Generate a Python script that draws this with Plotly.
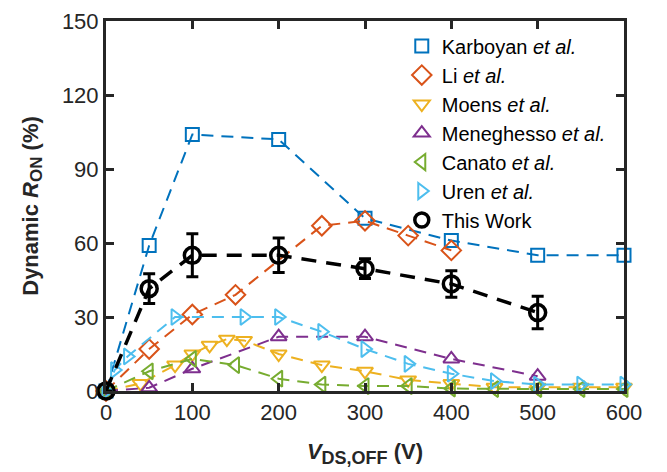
import plotly.graph_objects as go

# ---- data ----
karboyan_x = [0, 50, 100, 200, 300, 400, 500, 600]
karboyan_y = [0, 59, 104, 102, 70, 61, 55, 55]

li_x = [0, 50, 100, 150, 250, 300, 350, 400]
li_y = [0, 17, 31, 39, 67, 69, 63, 57]

moens_x = [0, 40, 80, 100, 120, 140, 160, 200, 250, 300, 350, 400, 450, 500, 550, 600]
moens_y = [0, 3, 10.5, 15, 18.5, 21, 20.5, 15, 10.5, 8, 4.5, 3, 1.5, 1.5, 1.5, 1.5]

meneghesso_x = [0, 50, 100, 200, 300, 400, 500]
meneghesso_y = [0, 1.3, 9, 22, 22, 13, 6]

canato_x = [0, 50, 100, 150, 200, 250, 300, 350, 400, 450, 500, 550, 600]
canato_y = [0, 8, 13, 10.5, 5, 2.6, 2, 2, 1, 0.8, 0.8, 0.8, 0.8]

uren_x = [0, 10, 25, 80, 160, 200, 250, 300, 350, 400, 450, 500, 550, 600]
uren_y = [0, 8.5, 14, 30, 30, 30, 24, 17, 11, 7, 4, 2.6, 2.6, 2.6]

work_x = [0, 50, 100, 200, 300, 400, 500]
work_y = [0, 41.5, 55, 55, 49.6, 43.4, 31.8]
work_err = [0, 6, 8.7, 7, 4, 5.4, 6.6]

x_ticks = [0, 100, 200, 300, 400, 500, 600]
y_ticks = [0, 30, 60, 90, 120, 150]
x_range = [0, 600]
y_range = [0, 150]

series = [
    ("Karboyan <i>et al.</i>", karboyan_x, karboyan_y, "#0072BD", "square-open", 13),
    ("Li <i>et al.</i>", li_x, li_y, "#D95319", "diamond-open", 15),
    ("Moens <i>et al.</i>", moens_x, moens_y, "#EDB120", "triangle-down-open", 14),
    ("Meneghesso <i>et al.</i>", meneghesso_x, meneghesso_y, "#7E2F8E", "triangle-up-open", 14),
    ("Canato <i>et al.</i>", canato_x, canato_y, "#77AC30", "triangle-left-open", 14),
    ("Uren <i>et al.</i>", uren_x, uren_y, "#4DBEEE", "triangle-right-open", 14),
]

FONT = "Arial, Liberation Sans, Helvetica, sans-serif"
AX = "#262626"

fig = go.Figure()

for name, xs, ys, col, sym, sz in series:
    fig.add_trace(go.Scatter(
        x=xs, y=ys, mode="lines+markers", showlegend=False, cliponaxis=False,
        line=dict(color=col, width=2, dash="12px,8px"),
        marker=dict(symbol=sym, size=sz, color=col, line=dict(color=col, width=2)),
    ))

fig.add_trace(go.Scatter(
    x=work_x, y=work_y, mode="lines+markers", showlegend=False, cliponaxis=False,
    line=dict(color="black", width=3.5, dash="15px,10px"),
    marker=dict(symbol="circle-open", size=16, color="black", line=dict(color="black", width=3.5)),
    error_y=dict(type="data", array=work_err, visible=True, color="black", thickness=3, width=6),
))

# legend-only entries (markers only, like the reference legend)
for name, xs, ys, col, sym, sz in series:
    fig.add_trace(go.Scatter(
        x=[None], y=[None], mode="markers", name=name,
        marker=dict(symbol=sym, size=sz, color=col, line=dict(color=col, width=2)),
    ))
fig.add_trace(go.Scatter(
    x=[None], y=[None], mode="markers", name="This Work",
    marker=dict(symbol="circle-open", size=14, color="black", line=dict(color="black", width=3.5)),
))

frame_common = dict(
    showgrid=False, zeroline=False, automargin=False,
    showline=True, linecolor=AX, linewidth=3, mirror="ticks",
    ticks="inside", ticklen=8, tickwidth=3, tickcolor=AX,
)

# page body has an 8px default margin: offset margins accordingly
fig.update_layout(
    width=667, height=472,
    margin=dict(l=98, r=51, t=13, b=89),
    paper_bgcolor="white", plot_bgcolor="white",
    font=dict(family=FONT, size=22, color=AX),
    showlegend=True,
    legend=dict(
        x=0.571, y=0.985, xanchor="left", yanchor="top",
        bgcolor="rgba(255,255,255,0)", borderwidth=0,
        font=dict(family=FONT, size=20, color="black"),
    ),
    xaxis=dict(
        range=x_range, tickvals=x_ticks, ticktext=[str(v) for v in x_ticks],
        tickfont=dict(size=22, color=AX),
        title=dict(text="<b><i>V</i><sub><span style=\"font-size:18px\">DS,OFF</span></sub> (V)</b>",
                   font=dict(size=22, color=AX), standoff=20),
        **frame_common,
    ),
    yaxis=dict(
        range=y_range, tickvals=y_ticks, ticktext=[str(v) for v in y_ticks],
        tickfont=dict(size=22, color=AX),
        title=dict(text="<b>Dynamic <i>R</i><sub><span style=\"font-size:17px\">ON</span></sub> (%)</b>",
                   font=dict(size=22, color=AX), standoff=18),
        **frame_common,
    ),
)

fig.write_html("out.html")
